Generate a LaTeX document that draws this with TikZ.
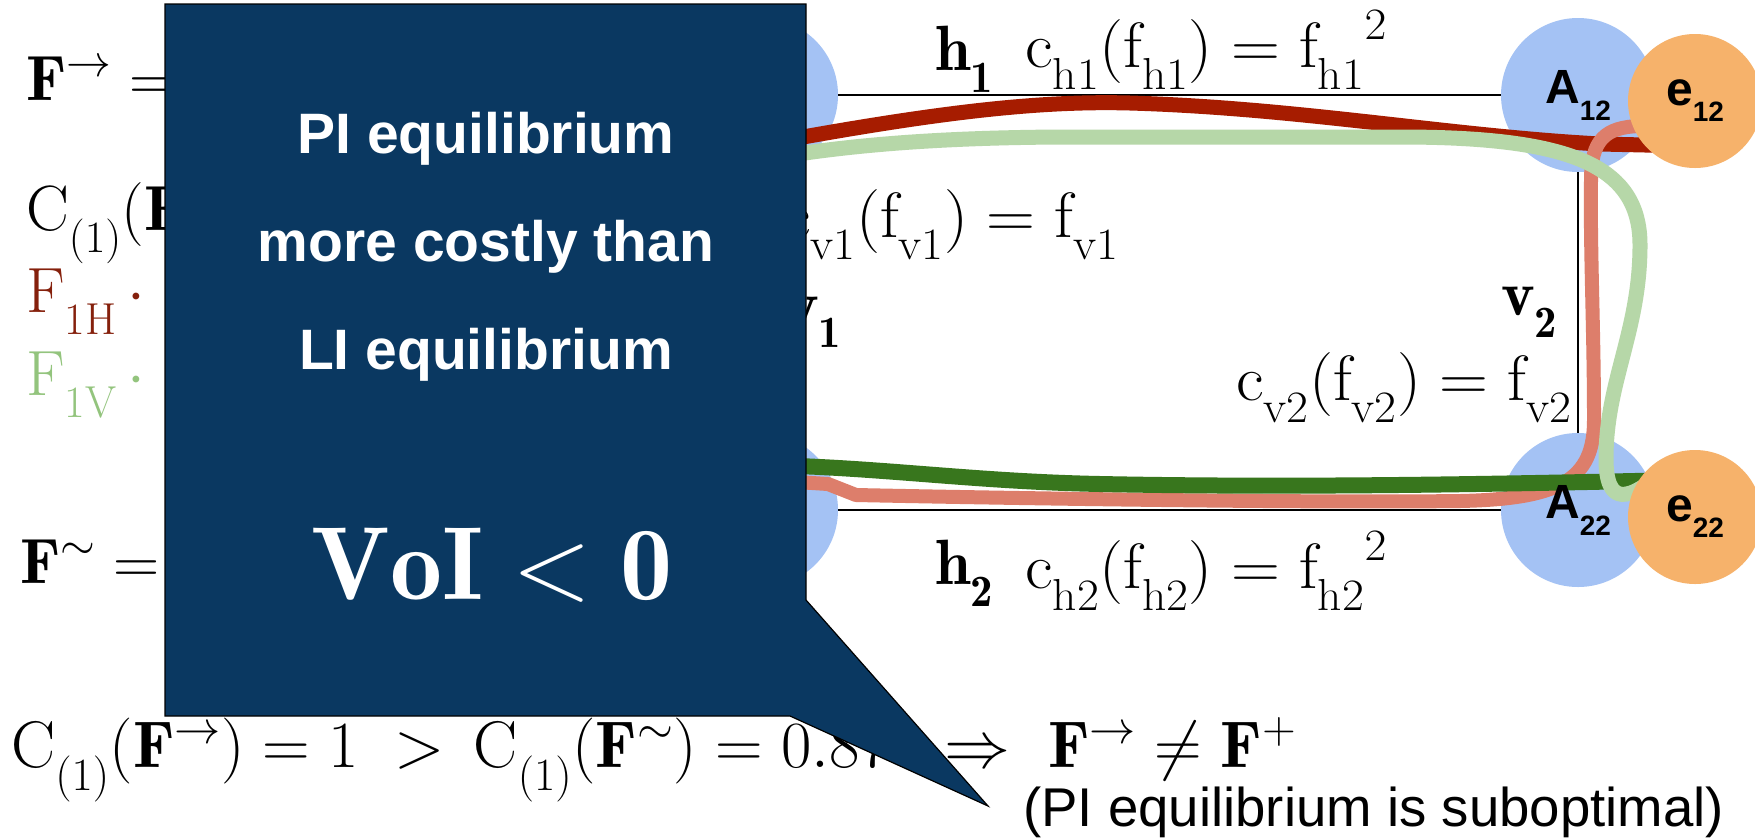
\RequirePackage{fix-cm}
\documentclass[tikz,border=0pt]{standalone}
\usepackage{graphicx}
\usepackage{fontspec}
\newfontfamily\lsans{Liberation Sans}
\definecolor{navy}{RGB}{10,56,97}
\definecolor{cblue}{HTML}{A4C2F4}
\definecolor{corange}{HTML}{F6B26B}
\definecolor{cred}{HTML}{A61C00}
\definecolor{clgreen}{HTML}{B6D7A8}
\definecolor{csalmon}{HTML}{DD7E6B}
\definecolor{cdgreen}{HTML}{38761D}
\definecolor{tred}{HTML}{85200C}
\definecolor{tgreen}{HTML}{93C47D}
\newcommand{\dn}[1]{_{\raisebox{-0.2em}{$\scriptstyle #1$}}}
\newcommand{\wide}[1]{\scalebox{1.06}[1]{#1}}
\tikzset{
  acirc/.style={circle, fill=cblue, minimum size=154pt, inner sep=0pt},
  ecirc/.style={circle, fill=corange, minimum size=134pt, inner sep=0pt},
  road/.style={draw=black, line width=2pt},
  flow/.style={line width=#1, line join=round},
  mtext/.style={inner sep=0pt, font=\fontsize{64}{72}\selectfont},
  btext/.style={inner sep=0pt, font=\fontsize{66}{74}\selectfont},
  lab/.style={inner sep=0pt, font=\lsans\bfseries},
  calltext/.style={inner sep=0pt, text=white, font=\lsans\bfseries\fontsize{57}{60}\selectfont},
}
\begin{document}
\begin{tikzpicture}[x=1pt,y=-1pt]
\fill[white] (0,0) rectangle (1755,839);
\useasboundingbox (0,0) rectangle (1755,839);
% nodes of the network
\node[acirc] (A11) at (761,95) {};
\node[acirc] (A12) at (1578,95) {};
\node[acirc] (A21) at (761,510) {};
\node[acirc] (A22) at (1578,510) {};
\draw[road] (A11) -- (A12);
\draw[road] (A21) -- (A22);
\draw[road, line width=1.6pt] (A12) -- (A22);
\draw[road, line width=1.6pt] (A11) -- (A21);
% flows
\draw[flow=15pt, cred] (700,156) .. controls (900,118) and (1020,100) .. (1130,103) .. controls (1300,108) and (1450,136) .. (1600,144) -- (1690,146);
\draw[flow=14pt, csalmon] (700,476) -- (828,484) -- (856,495) .. controls (1000,498) and (1300,503) .. (1460,501) .. controls (1560,499) and (1594,480) .. (1594,420) .. controls (1594,330) and (1590,250) .. (1591,180) .. controls (1591,140) and (1605,127) .. (1640,126) -- (1680,125);
\draw[flow=16pt, cdgreen] (700,465) .. controls (850,462) and (950,481) .. (1100,484) .. controls (1300,488) and (1500,484) .. (1680,480);
\draw[flow=15pt, clgreen] (700,172) .. controls (800,150) and (900,138) .. (1060,137) -- (1400,137) .. controls (1570,137) and (1640,165) .. (1640,245) .. controls (1640,330) and (1607,380) .. (1606,455) .. controls (1605,510) and (1630,500) .. (1665,470);
% end nodes
\node[ecirc] (e12) at (1695,101) {};
\node[ecirc] (e22) at (1695,517) {};
% node labels
\node[lab] at (A12) {{\fontsize{48}{50}\selectfont A}\raisebox{-17pt}{\fontsize{28}{30}\selectfont 12}};
\node[lab] at (A22) {{\fontsize{48}{50}\selectfont A}\raisebox{-17pt}{\fontsize{28}{30}\selectfont 22}};
\node[lab] at (e12) {{\fontsize{48}{50}\selectfont e}\raisebox{-16pt}{\fontsize{28}{30}\selectfont 12}};
\node[lab] at (e22) {{\fontsize{48}{50}\selectfont e}\raisebox{-16pt}{\fontsize{28}{30}\selectfont 22}};
% edge labels
\node[mtext, anchor=base west] (h1) at (935,70) {$\mathbf{h}\dn{\mathbf{1}}$};
\node[mtext, anchor=base west] (ch1) at (1025,67) {\wide{$\mathrm{c}\dn{\mathrm{h1}}(\mathrm{f}\dn{\mathrm{h1}}) = {\mathrm{f}\dn{\mathrm{h1}}}^{2}$}};
\node[mtext, anchor=base east] (cv1) at (1119,237) {\wide{$\mathrm{c}\dn{\mathrm{v1}}(\mathrm{f}\dn{\mathrm{v1}}) = \mathrm{f}\dn{\mathrm{v1}}$}};
\node[mtext, anchor=base east] (v1) at (842,325) {$\mathbf{v}\dn{\mathbf{1}}$};
\node[mtext, anchor=base east] (v2) at (1558,315) {$\mathbf{v}\dn{\mathbf{2}}$};
\node[mtext, anchor=base east] (cv2) at (1572,400) {\wide{$\mathrm{c}\dn{\mathrm{v2}}(\mathrm{f}\dn{\mathrm{v2}}) = \mathrm{f}\dn{\mathrm{v2}}$}};
\node[mtext, anchor=base west] (h2) at (935,584) {$\mathbf{h}\dn{\mathbf{2}}$};
\node[mtext, anchor=base west] (ch2) at (1025,588) {\wide{$\mathrm{c}\dn{\mathrm{h2}}(\mathrm{f}\dn{\mathrm{h2}}) = {\mathrm{f}\dn{\mathrm{h2}}}^{2}$}};
% left texts
\node[mtext, anchor=base west] (fr) at (26,100) {$\mathbf{F}^{\rightarrow} =$};
\node[mtext, anchor=base west] (c1) at (26,230) {$\mathrm{C}\dn{(1)}(\mathbf{F}$};
\node[mtext, anchor=base west, text=tred] (f1h) at (26,312) {$\mathrm{F}\dn{\mathrm{1H}}\,\cdot$};
\node[mtext, anchor=base west, text=tgreen] (f1v) at (26,395) {$\mathrm{F}\dn{\mathrm{1V}}\,\cdot$};
\node[mtext, anchor=base west] (ft) at (20,583) {$\mathbf{F}^{\sim} =$};
% bottom line
\node[btext, anchor=base west] (b1) at (11,767) {$\mathrm{C}\dn{(1)}(\mathbf{F}^{\rightarrow}) = 1$};
\node[btext, anchor=base west] (b2) at (394,767) {$> \,\mathrm{C}\dn{(1)}(\mathbf{F}^{\sim}) = 0.87$};
\node[btext, anchor=base west] (b3) at (944,767) {$\Rightarrow\ \mathbf{F}^{\rightarrow} \neq \mathbf{F}^{+}$};
\node[inner sep=0pt, anchor=base west, font=\lsans\fontsize{54.6}{60}\selectfont] (sub) at (1023,826) {(PI equilibrium is suboptimal)};
% callout
\filldraw[fill=navy, draw=black, line width=1.2pt] (165,4) -- (806,4) -- (806,600) -- (988,806) -- (790,716) -- (165,716) -- cycle;
\node[calltext, anchor=base] (t1) at (486,153) {PI equilibrium};
\node[calltext, anchor=base] (t2) at (486,261) {more costly than};
\node[calltext, anchor=base] (t3) at (486,369) {LI equilibrium};
\node[inner sep=0pt, anchor=base, text=white, font=\fontsize{104}{110}\selectfont] (voi) at (492,599) {$\mathbf{VoI} < \mathbf{0}$};
\end{tikzpicture}
\end{document}
